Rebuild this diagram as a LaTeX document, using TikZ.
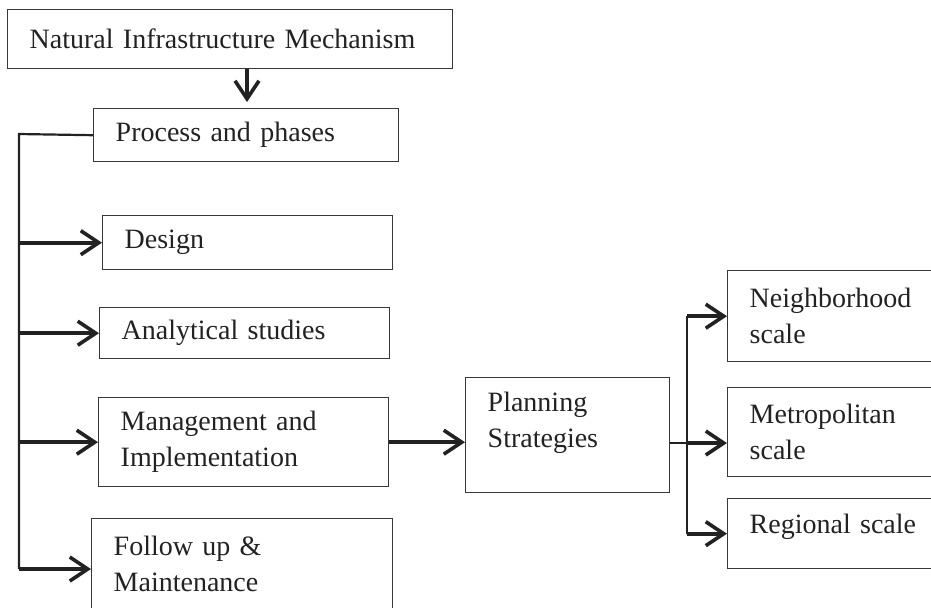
\documentclass[tikz,border=0pt]{standalone}
\usepackage{fontspec}
\setmainfont{Liberation Serif}
\usepackage{tikz}
\usetikzlibrary{calc,arrows.meta}

\definecolor{ink}{HTML}{222222}
\definecolor{edge}{HTML}{383838}
\tikzset{
  blk/.style={draw=edge,line width=0.7pt,rectangle,anchor=north west,align=left,
    inner xsep=11pt,inner ysep=0pt,text=ink,font=\fontsize{14}{18}\selectfont},
  arr/.style={draw=ink,line width=1.8pt,-{Straight Barb[length=9pt,width=12pt]}},
  lnk/.style={draw=ink,line width=1.1pt}
}

\begin{document}
\begin{tikzpicture}[x=0.5pt,y=-0.5pt]
\useasboundingbox (0,0) rectangle (931,607);
\clip (0,0) rectangle (931,607);
\node[blk,minimum width=222.5pt,minimum height=29.5pt,text width=200.5pt] (nim) at (7,9) {Natural Infrastructure Mechanism};
\node[blk,minimum width=152.5pt,minimum height=26.5pt,text width=130.5pt] (proc) at (93,108) {Process and phases};
\node[blk,minimum width=145pt,minimum height=27pt,text width=123pt] (design) at (102,215) {Design};
\node[blk,minimum width=145pt,minimum height=25.5pt,text width=123pt] (analyt) at (99,307) {Analytical studies};
\node[blk,minimum width=145pt,minimum height=44.5pt,text width=123pt] (manag) at (98,397) {Management and\\Implementation};
\node[blk,minimum width=150.5pt,minimum height=45.5pt,text width=128.5pt] (follow) at (91,518) {Follow up \&\\Maintenance};
\node[blk,minimum width=102pt,minimum height=57.5pt,text width=80pt] (plan) at (465,377) {Planning\\Strategies\\[-3pt]\mbox{}};
\node[blk,minimum width=120pt,minimum height=45.5pt,text width=98pt] (neigh) at (727,270) {Neighborhood\\scale};
\node[blk,minimum width=120pt,minimum height=44.5pt,text width=98pt] (metro) at (727,387) {Metropolitan\\scale};
\node[blk,minimum width=120pt,minimum height=35pt,text width=98pt,text depth=10pt] (region) at (727,498) {Regional scale};

\draw[arr,shorten >=3pt] (nim.south -| 247,0) -- (proc.north -| 247,0);

\coordinate (trunk) at (19,134);
\coordinate (fin) at ($(follow.north west)+(0,51)$);
\draw[lnk] (proc.west) -- (trunk) -- (trunk |- fin);
\foreach \b in {design,analyt,manag}
\draw[arr] (trunk |- \b.west) -- (\b.west);
\draw[arr] (trunk |- fin) -- (fin);

\draw[arr] (manag.east) -- (manag.east -| plan.west);

\coordinate (split) at (687,443);
\draw[lnk] (plan.east |- split) -- (split);
\draw[lnk] (split |- neigh.west) -- (split |- region.west);
\foreach \b in {neigh,region}
\draw[arr] (split |- \b.west) -- (\b.west);
\draw[arr] (split) -- (split -| metro.west);
\end{tikzpicture}
\end{document}
